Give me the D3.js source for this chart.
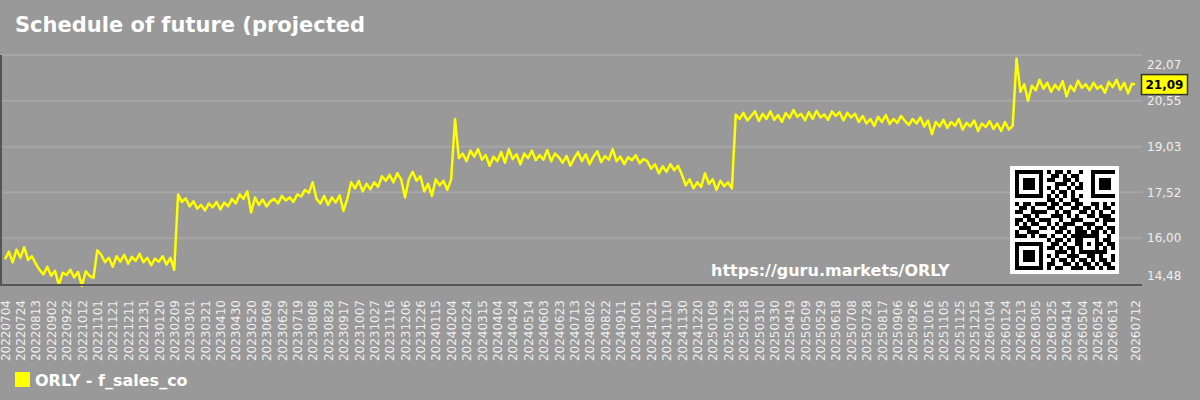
<!DOCTYPE html>
<html>

<head>
  <meta charset="utf-8">
  <title>ORLY - f_sales_co</title>
  <script src="https://cdn.jsdelivr.net/npm/d3@7"></script>
  <style>
    body { margin: 0; background: #999999; }
    svg text { font-family: "DejaVu Sans", sans-serif; }
  </style>
</head>

<body>
  <script type="text/javascript">
    //Width and height
    var w = 1200;
    var h = 400;

    //Chart data
    var titleText = "Schedule of future (projected";
    var seriesName = "ORLY - f_sales_co";
    var siteUrl = "https://guru.markets/ORLY";
    var startDate = "20220704";
    var endDate = "20260712";
    var stepDays = 5;
    var lastValue = 21.09;

    var yTicks = [14.48, 16.00, 17.52, 19.03, 20.55, 22.07];

    var xTickLabels = [
      "20220704", "20220724", "20220813", "20220902", "20220922", "20221012", "20221101", "20221121", "20221211", "20221231",
      "20230120", "20230209", "20230301", "20230321", "20230410", "20230430", "20230520", "20230609", "20230629", "20230719",
      "20230808", "20230828", "20230917", "20231007", "20231027", "20231116", "20231206", "20231226", "20240115", "20240204",
      "20240224", "20240315", "20240404", "20240424", "20240514", "20240603", "20240623", "20240713", "20240802", "20240822",
      "20240911", "20241001", "20241021", "20241110", "20241130", "20241220", "20250109", "20250129", "20250218", "20250310",
      "20250330", "20250419", "20250509", "20250529", "20250618", "20250708", "20250728", "20250817", "20250906", "20250926",
      "20251016", "20251105", "20251125", "20251215", "20260104", "20260124", "20260213", "20260305", "20260325", "20260414",
      "20260504", "20260524", "20260613", "20260712"
    ];

    // one value every 5 days from 20220704, last one on 20260712
    var values = [
      15.30, 15.55, 15.20, 15.62, 15.35, 15.70, 15.28, 15.40,
      15.15, 14.95, 14.80, 15.05, 14.75, 14.92, 14.45, 14.85, 14.78, 14.95, 14.70, 14.88, 14.42, 14.90, 14.75, 14.68,
      15.60, 15.45, 15.20, 15.35, 15.05, 15.40, 15.22, 15.45, 15.15, 15.38, 15.25, 15.48, 15.20, 15.35, 15.10, 15.32,
      15.22, 15.40, 15.12, 15.35, 14.95,
      17.45, 17.20, 17.32, 17.05, 17.22, 16.98, 17.10, 16.92, 17.15, 17.02, 17.20, 16.95, 17.18, 17.05, 17.30, 17.15,
      17.45, 17.30, 17.55, 16.85, 17.35, 17.10, 17.28, 17.05, 17.22, 17.30, 17.15, 17.40, 17.25, 17.35, 17.20, 17.45,
      17.38, 17.60, 17.50, 17.85, 17.30, 17.15, 17.40, 17.10, 17.35, 17.18, 17.42, 16.90, 17.30,
      17.85, 17.65, 17.90, 17.55, 17.80, 17.62, 17.85, 17.70, 18.05, 17.90, 18.10, 17.85, 18.15, 17.95, 17.35, 17.95,
      18.20, 17.90, 18.05, 17.55, 17.80, 17.40, 17.95, 17.75, 17.90, 17.60, 17.95,
      19.95,
      18.65, 18.80, 18.55, 18.90, 18.70, 18.95, 18.60, 18.75, 18.40, 18.70,
      18.55, 18.85, 18.50, 18.95, 18.62, 18.78, 18.45, 18.80, 18.65, 18.90,
      18.58, 18.75, 18.60, 18.92, 18.55, 18.80, 18.68, 18.50, 18.72, 18.40,
      18.65, 18.85, 18.55, 18.78, 18.45, 18.70, 18.88, 18.52, 18.72, 18.60,
      18.95, 18.55, 18.70, 18.45, 18.68, 18.58, 18.75, 18.48, 18.62, 18.55,
      18.30, 18.45, 18.15, 18.38, 18.20, 18.45, 18.25, 18.40, 18.10,
      17.75, 17.95, 17.65, 17.85, 17.70, 18.15, 17.80, 17.95, 17.60, 17.90, 17.72, 17.85, 17.65,
      20.10, 19.95, 20.15, 19.90, 20.05, 20.20, 19.88, 20.12, 19.95, 20.20,
      19.92, 20.08, 19.85, 20.15, 19.98, 20.25, 20.02, 20.12, 19.90, 20.18,
      19.95, 20.22, 20.00, 20.10, 19.92, 20.20, 20.05, 20.18, 19.90, 20.15,
      20.00, 20.12, 19.85, 20.05, 19.80, 19.95, 19.72, 20.02, 19.85, 20.08,
      19.78, 19.95, 19.82, 20.05, 19.88, 19.75, 19.95, 19.80, 20.00, 19.70,
      19.90, 19.45, 19.85, 19.70, 19.92, 19.65, 19.85, 19.72, 19.95, 19.60,
      19.82, 19.70, 19.90, 19.55, 19.80, 19.68, 19.88, 19.62, 19.80, 19.55,
      19.85, 19.60, 19.72,
      21.95, 20.85, 21.10, 20.55, 21.05, 20.90, 21.25, 20.95, 21.15, 20.85,
      21.08, 20.92, 21.20, 20.70, 21.05, 20.88, 21.22, 20.98, 21.10, 20.90,
      21.15, 20.95, 21.05, 20.82, 21.18, 21.00, 21.25, 20.92, 21.15, 20.80,
      21.12, 21.09
    ];

    // QR picture, 25 x 25 modules
    var qrRows = [
      "1111111010110100100111111",
      "1000001001101011000100000",
      "1011101011001101000101110",
      "1011101000111010100101110",
      "1011101010100101100101110",
      "1000001001011010000100000",
      "1111111010101010100111111",
      "0000000011010011000000000",
      "1011011101101101100110101",
      "0110100011010011011010110",
      "1100111100101100110101001",
      "0011010001110101001101110",
      "1101101110010011100010111",
      "1010110010101110011100100",
      "0111001101011001101011011",
      "1001110000110101110110101",
      "1110101101001011111110010",
      "0000000010110101100010110",
      "1111111001101001101011011",
      "1000001011010110100010101",
      "1011101000111010111111100",
      "1011101010100111001101001",
      "1011101001011010110101101",
      "1000001011001101011010110",
      "1111111010110011101101011"
    ];

    var parseDay = d3.utcParse("%Y%m%d");
    var formatDay = d3.utcFormat("%Y%m%d");
    var fmtComma = function(v) { return d3.format(".2f")(v).replace(".", ","); };

    var start = parseDay(startDate);
    var end = parseDay(endDate);
    var spanDays = d3.utcDay.count(start, end);

    var points = values.map(function(v, i) {
      return { date: d3.utcDay.offset(start, Math.min(i * stepDays, spanDays)), value: v };
    });

    //Scales
    var plotLeft = 0, plotRight = 1142;
    var x = d3.scaleUtc()
      .domain([start, end])
      .range([5, 1135]);
    var y = d3.scaleLinear()
      .domain([yTicks[0], yTicks[yTicks.length - 1]])
      .range([284, 55]);

    //Create SVG element
    var svg = d3.select("body")
      .append("svg")
      .attr("width", w)
      .attr("height", h);

    svg.append("rect")
      .attr("width", w)
      .attr("height", h)
      .attr("fill", "#999999");

    // title
    svg.append("text")
      .attr("x", 15)
      .attr("y", 32)
      .attr("fill", "#ffffff")
      .attr("font-size", 21)
      .attr("font-weight", "bold")
      .text(titleText);

    // grid
    svg.append("g")
      .selectAll("line")
      .data(yTicks.slice(1))
      .enter()
      .append("line")
      .attr("x1", plotLeft)
      .attr("x2", plotRight)
      .attr("y1", function(d) { return y(d); })
      .attr("y2", function(d) { return y(d); })
      .attr("stroke", "#a6a6a6")
      .attr("stroke-width", 2);

    // QR code + url
    var qrG = svg.append("g").attr("transform", "translate(1010,166)");
    qrG.append("rect")
      .attr("width", 109)
      .attr("height", 108)
      .attr("fill", "#ffffff");
    var cell = 4;
    qrRows.forEach(function(row, r) {
      row.split("").forEach(function(c, k) {
        if (c === "1") {
          qrG.append("rect")
            .attr("x", 5 + k * cell)
            .attr("y", 4 + r * cell)
            .attr("width", cell)
            .attr("height", cell)
            .attr("fill", "#000000");
        }
      });
    });

    svg.append("text")
      .attr("x", 711)
      .attr("y", 276)
      .attr("fill", "#ffffff")
      .attr("font-size", 16)
      .attr("font-weight", "bold")
      .text(siteUrl);

    // series line
    var line = d3.line()
      .x(function(d) { return x(d.date); })
      .y(function(d) { return y(d.value); });

    svg.append("path")
      .datum(points)
      .attr("d", line)
      .attr("fill", "none")
      .attr("stroke", "#ffff00")
      .attr("stroke-width", 2.5)
      .attr("stroke-linejoin", "round");

    // axis lines
    svg.append("line")
      .attr("x1", plotLeft + 1).attr("x2", plotLeft + 1)
      .attr("y1", y.range()[1]).attr("y2", y.range()[0] + 1)
      .attr("stroke", "#555555").attr("stroke-width", 2);
    svg.append("line")
      .attr("x1", plotLeft).attr("x2", plotRight)
      .attr("y1", y.range()[0] + 1).attr("y2", y.range()[0] + 1)
      .attr("stroke", "#555555").attr("stroke-width", 2);

    // x axis
    var xAxis = d3.axisBottom(x)
      .tickValues(xTickLabels.map(parseDay))
      .tickFormat(formatDay)
      .tickSize(0);
    var xg = svg.append("g")
      .attr("transform", "translate(0,284)")
      .call(xAxis);
    xg.select(".domain").remove();
    xg.selectAll("text")
      .attr("transform", "rotate(-90)")
      .attr("text-anchor", "end")
      .attr("x", -16)
      .attr("y", 0)
      .attr("dy", "0.35em")
      .attr("fill", "#eeeeee")
      .attr("font-size", 12)
      .attr("font-family", "DejaVu Sans");

    // y axis on the right
    var yAxis = d3.axisRight(y)
      .tickValues(yTicks)
      .tickFormat(fmtComma)
      .tickSize(0)
      .tickPadding(0);
    var yg = svg.append("g")
      .attr("transform", "translate(1147,0)")
      .call(yAxis);
    yg.select(".domain").remove();
    yg.selectAll(".tick text")
      .attr("fill", "#eeeeee")
      .attr("font-size", 12)
      .attr("font-family", "DejaVu Sans")
      .attr("dy", function(d) {
        if (d === yTicks[yTicks.length - 1]) return "1.1em";
        if (d === yTicks[0]) return "-0.35em";
        return "0.32em";
      });

    // last value marker
    var lastG = svg.append("g")
      .attr("transform", "translate(1141," + y(lastValue) + ")");
    lastG.append("rect")
      .attr("x", 0.5)
      .attr("y", -10)
      .attr("width", 46)
      .attr("height", 20)
      .attr("fill", "#ffff00")
      .attr("stroke", "#333333")
      .attr("stroke-width", 1.5);
    lastG.append("text")
      .attr("x", 23.5)
      .attr("y", 0)
      .attr("dy", "0.36em")
      .attr("text-anchor", "middle")
      .attr("font-size", 12)
      .attr("font-weight", "bold")
      .attr("fill", "#000000")
      .text(fmtComma(lastValue));

    // legend
    svg.append("rect")
      .attr("x", 15)
      .attr("y", 372)
      .attr("width", 15)
      .attr("height", 15)
      .attr("fill", "#ffff00");
    svg.append("text")
      .attr("x", 35)
      .attr("y", 386)
      .attr("fill", "#ffffff")
      .attr("font-size", 16)
      .attr("font-weight", "bold")
      .text(seriesName);
  </script>
</body>

</html>
